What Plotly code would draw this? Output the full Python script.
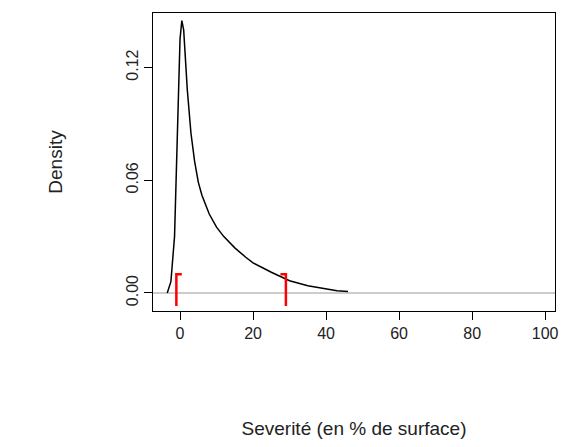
import plotly.graph_objects as go

# density curve
sev_x = [-3.5, -2.5, -1.5, -1.0, -0.5, 0.0, 0.5, 1.0, 1.5, 2.0, 3.0, 4.0, 5.0, 6.0, 8.0,
         10.0, 12.0, 15.0, 18.0, 20.0, 25.0, 30.0, 35.0, 40.0, 43.0, 46.0]
density = [0.0, 0.006, 0.03, 0.06, 0.10, 0.135, 0.145, 0.14, 0.125, 0.108, 0.085, 0.07, 0.059,
           0.052, 0.042, 0.035, 0.030, 0.024, 0.019, 0.016, 0.011, 0.0065, 0.0038, 0.002, 0.0012, 0.0008]

# interval brackets
lo, hi = -1.0, 29.0
br_top, br_bot = 0.010, -0.007

fig = go.Figure()
fig.add_trace(go.Scatter(x=[-20, 120], y=[0, 0], mode="lines",
                         line=dict(color="#bbbbbb", width=1.5), hoverinfo="skip"))
fig.add_trace(go.Scatter(x=sev_x, y=density, mode="lines",
                         line=dict(color="black", width=1.5)))
fig.add_trace(go.Scatter(x=[lo + 1.5, lo, lo], y=[br_top, br_top, br_bot], mode="lines",
                         line=dict(color="red", width=2.5)))
fig.add_trace(go.Scatter(x=[hi - 1.5, hi, hi], y=[br_top, br_top, br_bot], mode="lines",
                         line=dict(color="red", width=2.5)))

font = dict(family="Liberation Sans, Arial", size=16, color="#222222")
fig.update_layout(
    width=571, height=447, showlegend=False,
    plot_bgcolor="white", paper_bgcolor="white",
    margin=dict(l=145, r=24, t=5, b=144),
    font=font,
    xaxis=dict(range=[-7.4, 102.7], tickvals=[0, 20, 40, 60, 80, 100],
               ticks="outside", ticklen=8, tickcolor="black",
               showline=True, linecolor="black", mirror=True, showgrid=False, zeroline=False,
               title=dict(text="Severité (en % de surface)", standoff=80)),
    yaxis=dict(range=[-0.0096, 0.149], tickvals=[0, 0.06, 0.12],
               ticktext=["0.00", "0.06", "0.12"], tickangle=-90,
               ticks="outside", ticklen=8, tickcolor="black",
               showline=True, linecolor="black", mirror=True, showgrid=False, zeroline=False,
               title=dict(text="Density", standoff=55)),
)
fig.write_html("out.html")
